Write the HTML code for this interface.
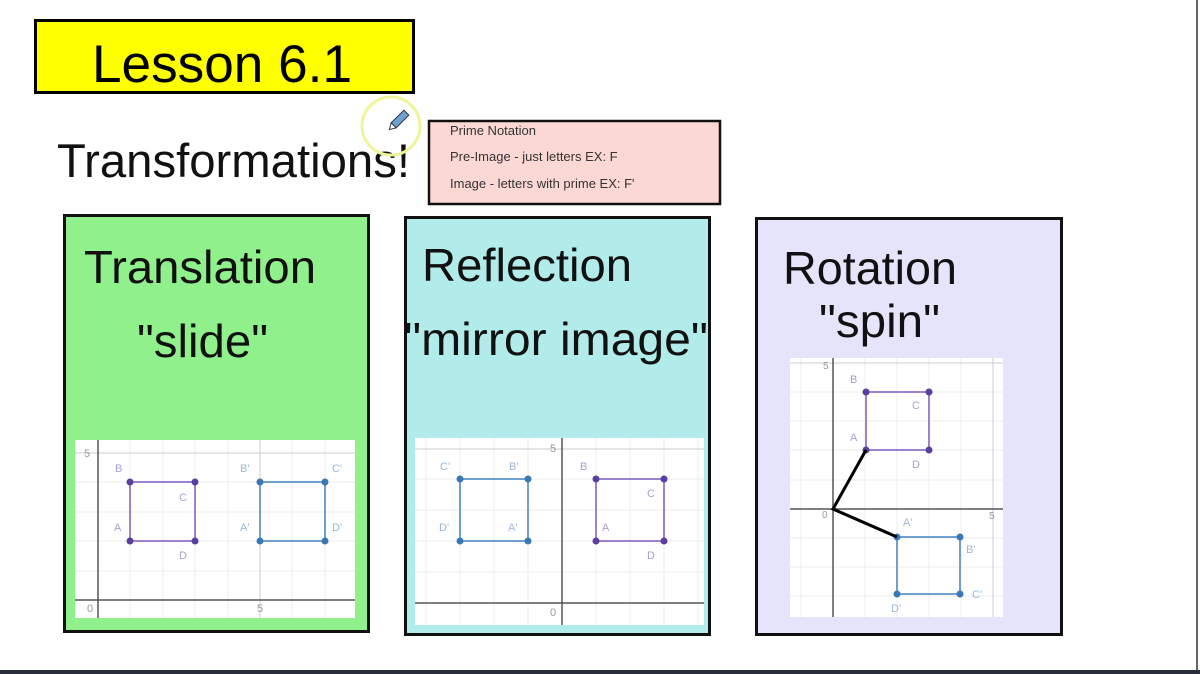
<!DOCTYPE html>
<html><head><meta charset="utf-8"><style>
html,body{margin:0;padding:0;background:#fff;}
svg{display:block;font-family:"Liberation Sans",Arial,sans-serif;}
</style></head><body>
<svg width="1200" height="674" viewBox="0 0 1200 674" xmlns="http://www.w3.org/2000/svg">
<rect width="1200" height="674" fill="#fff"/>
<line x1="1197" y1="0" x2="1197" y2="670" stroke="#666" stroke-width="2"/>
<rect x="0" y="670" width="1200" height="4" fill="#2a2e3a"/>

<!-- Title -->
<rect x="35.5" y="20.5" width="378" height="72" fill="#ffff00" stroke="#000" stroke-width="3"/>
<text x="92" y="82" font-size="53" textLength="260" lengthAdjust="spacingAndGlyphs">Lesson 6.1</text>
<text x="57" y="177" font-size="47" fill="#111" textLength="353" lengthAdjust="spacingAndGlyphs">Transformations!</text>

<!-- pencil circle -->
<circle cx="391" cy="126" r="29" fill="none" stroke="#eef59a" stroke-width="3"/>
<g transform="translate(400,119) rotate(-45)">
<rect x="-9" y="-3.5" width="18" height="7" fill="#6fa3cf" stroke="#334" stroke-width="1"/>
<polygon points="-9,-3.5 -15,0 -9,3.5" fill="#fff" stroke="#334" stroke-width="1"/>
</g>

<!-- Prime notation box -->
<rect x="429" y="121" width="291" height="83" fill="#fcd8d5" stroke="#111" stroke-width="2.5"/>
<g font-size="13" fill="#333">
<text x="450" y="135">Prime Notation</text>
<text x="450" y="161">Pre-Image - just letters  EX: F</text>
<text x="450" y="188">Image - letters with prime EX: F'</text>
</g>

<!-- Panels -->
<rect x="64.5" y="215.5" width="304" height="416" fill="#90f08c" stroke="#111" stroke-width="3"/>
<rect x="405.5" y="217.5" width="304" height="417" fill="#b1ecea" stroke="#111" stroke-width="3"/>
<rect x="756.5" y="218.5" width="305" height="416" fill="#e6e4fa" stroke="#111" stroke-width="3"/>

<g font-size="46" fill="#111">
<text x="84" y="283" textLength="232" lengthAdjust="spacingAndGlyphs">Translation</text>
<text x="137" y="357" textLength="131" lengthAdjust="spacingAndGlyphs">"slide"</text>
<text x="422" y="281" textLength="210" lengthAdjust="spacingAndGlyphs">Reflection</text>
<text x="404" y="355" textLength="304" lengthAdjust="spacingAndGlyphs">"mirror image"</text>
<text x="783" y="284" textLength="174" lengthAdjust="spacingAndGlyphs">Rotation</text>
<text x="819" y="337" textLength="121" lengthAdjust="spacingAndGlyphs">"spin"</text>
</g>

<!-- Graph 1 -->
<rect x="75" y="440" width="280" height="178" fill="#fff"/>
<g stroke="#ececec" stroke-width="1">
<line x1="130" y1="440" x2="130" y2="618"/><line x1="163" y1="440" x2="163" y2="618"/><line x1="195" y1="440" x2="195" y2="618"/><line x1="228" y1="440" x2="228" y2="618"/><line x1="292" y1="440" x2="292" y2="618"/><line x1="325" y1="440" x2="325" y2="618"/>
<line x1="75" y1="482" x2="355" y2="482"/><line x1="75" y1="512" x2="355" y2="512"/><line x1="75" y1="541" x2="355" y2="541"/><line x1="75" y1="571" x2="355" y2="571"/>
</g>
<line x1="75" y1="453" x2="355" y2="453" stroke="#ccc"/>
<line x1="260" y1="440" x2="260" y2="618" stroke="#ccc"/>
<line x1="98" y1="440" x2="98" y2="618" stroke="#555" stroke-width="1.5"/>
<line x1="75" y1="600" x2="355" y2="600" stroke="#555" stroke-width="1.5"/>
<g font-size="11" fill="#999">
<text x="84" y="457">5</text><text x="87" y="612">0</text><text x="257" y="612">5</text>
</g>
<rect x="130" y="482" width="65" height="59" fill="none" stroke="#9b83d0" stroke-width="2"/>
<g fill="#5b3f9f"><circle cx="130" cy="482" r="3.5"/><circle cx="195" cy="482" r="3.5"/><circle cx="130" cy="541" r="3.5"/><circle cx="195" cy="541" r="3.5"/></g>
<rect x="260" y="482" width="65" height="59" fill="none" stroke="#6fa0d0" stroke-width="2"/>
<g fill="#3a78b5"><circle cx="260" cy="482" r="3.5"/><circle cx="325" cy="482" r="3.5"/><circle cx="260" cy="541" r="3.5"/><circle cx="325" cy="541" r="3.5"/></g>
<g font-size="11" fill="#a99fd2">
<text x="115" y="472">B</text><text x="179" y="501">C</text><text x="114" y="531">A</text><text x="179" y="559">D</text>
</g>
<g font-size="11" fill="#9ab8d8">
<text x="240" y="472">B'</text><text x="332" y="472">C'</text><text x="240" y="531">A'</text><text x="332" y="531">D'</text>
</g>

<!-- Graph 2 -->
<rect x="415" y="438" width="289" height="187" fill="#fff"/>
<g stroke="#ececec" stroke-width="1">
<line x1="426" y1="438" x2="426" y2="625"/><line x1="460" y1="438" x2="460" y2="625"/><line x1="494" y1="438" x2="494" y2="625"/><line x1="528" y1="438" x2="528" y2="625"/><line x1="596" y1="438" x2="596" y2="625"/><line x1="630" y1="438" x2="630" y2="625"/><line x1="664" y1="438" x2="664" y2="625"/><line x1="698" y1="438" x2="698" y2="625"/>
<line x1="415" y1="479" x2="704" y2="479"/><line x1="415" y1="510" x2="704" y2="510"/><line x1="415" y1="541" x2="704" y2="541"/><line x1="415" y1="572" x2="704" y2="572"/>
</g>
<line x1="415" y1="449" x2="704" y2="449" stroke="#ccc"/>
<line x1="562" y1="438" x2="562" y2="625" stroke="#555" stroke-width="1.5"/>
<line x1="415" y1="603" x2="704" y2="603" stroke="#555" stroke-width="1.5"/>
<g font-size="11" fill="#999"><text x="550" y="452">5</text><text x="550" y="616">0</text></g>
<rect x="460" y="479" width="68" height="62" fill="none" stroke="#6fa0d0" stroke-width="2"/>
<g fill="#3a78b5"><circle cx="460" cy="479" r="3.5"/><circle cx="528" cy="479" r="3.5"/><circle cx="460" cy="541" r="3.5"/><circle cx="528" cy="541" r="3.5"/></g>
<rect x="596" y="479" width="68" height="62" fill="none" stroke="#9b83d0" stroke-width="2"/>
<g fill="#5b3f9f"><circle cx="596" cy="479" r="3.5"/><circle cx="664" cy="479" r="3.5"/><circle cx="596" cy="541" r="3.5"/><circle cx="664" cy="541" r="3.5"/></g>
<g font-size="11" fill="#9ab8d8">
<text x="440" y="470">C'</text><text x="509" y="470">B'</text><text x="439" y="531">D'</text><text x="508" y="531">A'</text>
</g>
<g font-size="11" fill="#a99fd2">
<text x="580" y="470">B</text><text x="647" y="497">C</text><text x="602" y="531">A</text><text x="647" y="559">D</text>
</g>

<!-- Graph 3 -->
<rect x="790" y="358" width="213" height="259" fill="#fff"/>
<g stroke="#ececec" stroke-width="1">
<line x1="801" y1="358" x2="801" y2="617"/><line x1="865" y1="358" x2="865" y2="617"/><line x1="897" y1="358" x2="897" y2="617"/><line x1="929" y1="358" x2="929" y2="617"/><line x1="961" y1="358" x2="961" y2="617"/>
<line x1="790" y1="392" x2="1003" y2="392"/><line x1="790" y1="421" x2="1003" y2="421"/><line x1="790" y1="450" x2="1003" y2="450"/><line x1="790" y1="480" x2="1003" y2="480"/><line x1="790" y1="538" x2="1003" y2="538"/><line x1="790" y1="567" x2="1003" y2="567"/><line x1="790" y1="596" x2="1003" y2="596"/>
</g>
<line x1="790" y1="363" x2="1003" y2="363" stroke="#ccc"/>
<line x1="993" y1="358" x2="993" y2="617" stroke="#ccc"/>
<line x1="833" y1="358" x2="833" y2="617" stroke="#555" stroke-width="1.5"/>
<line x1="790" y1="509" x2="1003" y2="509" stroke="#555" stroke-width="1.5"/>
<g font-size="10" fill="#999"><text x="823" y="369">5</text><text x="822" y="518">0</text><text x="989" y="519">5</text></g>
<rect x="866" y="392" width="63" height="58" fill="none" stroke="#9b83d0" stroke-width="2"/>
<g fill="#5b3f9f"><circle cx="866" cy="392" r="3.5"/><circle cx="929" cy="392" r="3.5"/><circle cx="866" cy="450" r="3.5"/><circle cx="929" cy="450" r="3.5"/></g>
<rect x="897" y="537" width="63" height="57" fill="none" stroke="#6fa0d0" stroke-width="2"/>
<g fill="#3a78b5"><circle cx="897" cy="537" r="3.5"/><circle cx="960" cy="537" r="3.5"/><circle cx="897" cy="594" r="3.5"/><circle cx="960" cy="594" r="3.5"/></g>
<polyline points="866,450 833,509 897,537" fill="none" stroke="#000" stroke-width="3"/>
<g font-size="11" fill="#a99fd2">
<text x="850" y="383">B</text><text x="912" y="409">C</text><text x="850" y="441">A</text><text x="912" y="468">D</text>
</g>
<g font-size="11" fill="#9ab8d8">
<text x="903" y="526">A'</text><text x="966" y="553">B'</text><text x="972" y="598">C'</text><text x="891" y="612">D'</text>
</g>
</svg>
</body></html>
